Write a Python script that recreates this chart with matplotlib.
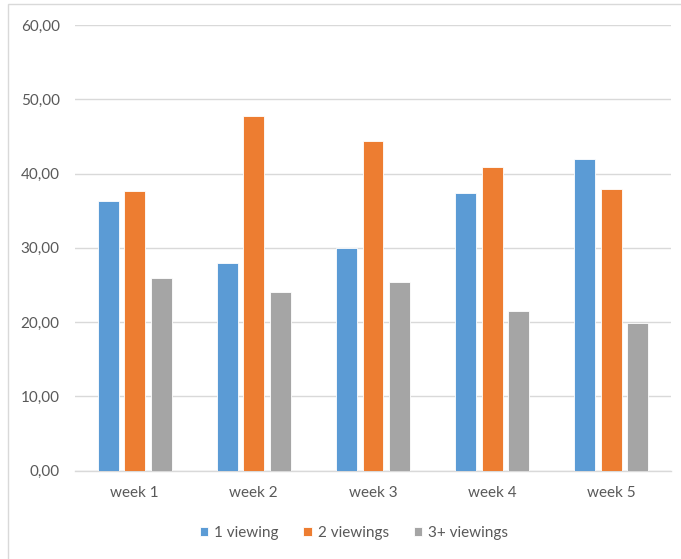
import matplotlib
matplotlib.use("Agg")
import matplotlib.pyplot as plt
import numpy as np
from matplotlib.patches import Rectangle
from matplotlib.ticker import FuncFormatter

categories = ["week 1", "week 2", "week 3", "week 4", "week 5"]
series_names = ["1 viewing", "2 viewings", "3+ viewings"]
one_viewing = [36.3, 28.0, 30.0, 37.4, 42.0]
two_viewings = [37.6, 47.8, 44.4, 40.9, 37.9]
three_plus = [25.9, 24.1, 25.4, 21.5, 19.9]
colors = ["#5b9bd5", "#ed7d31", "#a5a5a5"]

plt.rcParams['font.family'] = ['Lato', 'DejaVu Sans']

fig = plt.figure(figsize=(6.81, 5.59), dpi=100)
ax = fig.add_axes([75/681, (559-470.5)/559, (671-75)/681, (470.5-25)/559])

x = np.arange(len(categories))
width = 0.176
step = 0.222
for i, (vals, name) in enumerate(zip([one_viewing, two_viewings, three_plus], series_names)):
    ax.bar(x + (i-1)*step, vals, width, color=colors[i], label=name,
           edgecolor='white', linewidth=0.6, zorder=3)

ax.set_xlim(-0.5, len(categories)-0.5)
ax.set_ylim(0, 60)
ax.set_yticks(np.arange(0, 61, 10))
ax.yaxis.set_major_formatter(FuncFormatter(lambda v, p: f"{v:.2f}".replace('.', ',')))
ax.set_xticks(x)
ax.set_xticklabels(categories)
ax.grid(axis='y', color='#d9d9d9', linewidth=1.0, zorder=0)
for s in ['top', 'right', 'left']:
    ax.spines[s].set_visible(False)
ax.spines['bottom'].set_color('#d9d9d9')
ax.spines['bottom'].set_linewidth(1.0)
ax.tick_params(axis='both', length=0, colors='#595959', labelsize=11)
ax.tick_params(axis='y', pad=11)
ax.tick_params(axis='x', pad=11)

leg = fig.legend(loc='center', bbox_to_anchor=(354/681, 1-533/559), ncol=3,
                 frameon=False, fontsize=11, handlelength=0.55, handleheight=0.55,
                 handletextpad=0.4, columnspacing=1.6)
for t in leg.get_texts():
    t.set_color('#595959')

# outer chart border (partially visible)
fig.patches.append(Rectangle((8/681, -0.1), 1.2, 1 - 3.5/559 + 0.1, transform=fig.transFigure,
                             fill=False, edgecolor='#d9d9d9', linewidth=1.0))

fig.savefig("out.png", dpi=100)
